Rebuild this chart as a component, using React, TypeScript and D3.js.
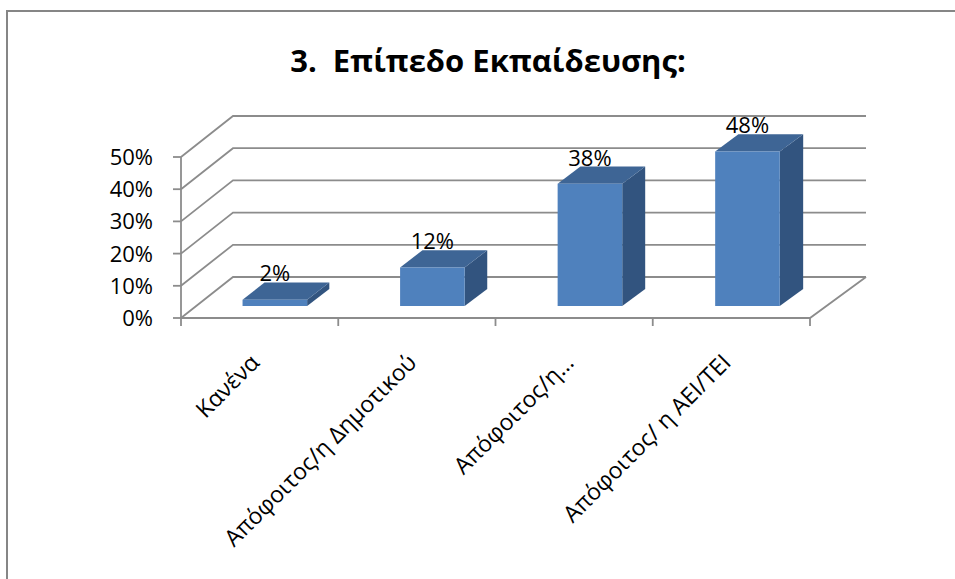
import React from "react";
import * as d3 from "d3";

const title = "3.\u00A0\u00A0Επίπεδο Εκπαίδευσης:";
const categories = ["Κανένα", "Απόφοιτος/η Δημοτικού", "Απόφοιτος/η…", "Απόφοιτος/ η ΑΕΙ/ΤΕΙ"];
const values = [2, 12, 38, 48];
const valueLabels = ["2%", "12%", "38%", "48%"];
const yTicks = [0, 10, 20, 30, 40, 50];
const yTickLabels = ["0%", "10%", "20%", "30%", "40%", "50%"];

const W = 955;
const H = 579;
const FONT = "'Open Sans', 'Noto Sans', sans-serif";

export default function App() {
  const xFront = d3.scaleLinear().domain([0, 1]).range([181, 810]);
  const depthDX = d3.scaleLinear().domain([0, 1]).range([52, 56]);
  const yScale = d3.scaleLinear().domain([0, 50]).range([318, 157]);
  const DY = 41;
  const proj = (u: number, v: number, z: number): [number, number] => [
    xFront(u) + z * depthDX(u),
    yScale(v) - z * DY,
  ];
  const band = d3.scaleBand<string>().domain(categories).range([0, 1]).paddingInner(0.59).paddingOuter(0.295);
  const z0 = 0.29;
  const z1 = 0.71;
  const line = d3.line();
  const poly = (pts: [number, number][]) => line(pts)! + "Z";

  const gridColor = "#8c8c8c";

  return (
    <svg width={W} height={H} style={{ position: "absolute", left: 0, top: 0, background: "#fff" }}>
      <rect x={0} y={0} width={W} height={H} fill="#fff" />
      <rect x={7} y={11} width={1200} height={1200} fill="none" stroke="#868686" strokeWidth={2} />
      <text
        x={488}
        y={72}
        textAnchor="middle"
        fontFamily={FONT}
        fontWeight="bold"
        fontSize={31}
        fill="#000"
        style={{ whiteSpace: "pre" }}
      >
        {title}
      </text>

      {/* gridlines: left wall + back wall */}
      {yTicks.map((t) => {
        const a = proj(0, t, 0);
        const b = proj(0, t, 1);
        const c = proj(1, t, 1);
        return <path key={"g" + t} d={line([a, b, c])!} fill="none" stroke={gridColor} strokeWidth={1.8} />;
      })}
      {/* floor front & right edges */}
      <path d={line([proj(0, 0, 0), proj(1, 0, 0), proj(1, 0, 1)])!} fill="none" stroke={gridColor} strokeWidth={1.8} />
      {/* y axis */}
      <path d={line([proj(0, 0, 0), proj(0, 50, 0)])!} fill="none" stroke={gridColor} strokeWidth={1.8} />
      {yTicks.map((t, i) => {
        const [x, y] = proj(0, t, 0);
        return (
          <g key={"yt" + t}>
            <line x1={x - 8} x2={x} y1={y} y2={y} stroke={gridColor} strokeWidth={1.8} />
            <text x={153} y={y + 8} textAnchor="end" fontFamily={FONT} fontSize={22} fill="#000">
              {yTickLabels[i]}
            </text>
          </g>
        );
      })}
      {/* x ticks */}
      {d3.range(categories.length + 1).map((i) => {
        const u = i / categories.length;
        const [x, y] = proj(u, 0, 0);
        return <line key={"xt" + i} x1={x} x2={x} y1={y} y2={y + 8} stroke={gridColor} strokeWidth={1.8} />;
      })}

      {/* bars */}
      {categories.map((c, i) => {
        const ua = band(c)!;
        const ub = ua + band.bandwidth();
        const v = values[i];
        const front = poly([proj(ua, 0, z0), proj(ub, 0, z0), proj(ub, v, z0), proj(ua, v, z0)]);
        const top = poly([proj(ua, v, z0), proj(ub, v, z0), proj(ub, v, z1), proj(ua, v, z1)]);
        const side = poly([proj(ub, 0, z0), proj(ub, 0, z1), proj(ub, v, z1), proj(ub, v, z0)]);
        const [lx] = proj((ua + ub) / 2, v, z0);
        const [, ly] = proj(ub, v, z1);
        return (
          <g key={"b" + i}>
            <path d={side} fill="#32547f" />
            <path d={top} fill="#3e6595" />
            <path d={front} fill="#4f81bd" />
            <text x={lx} y={ly - 1} textAnchor="middle" fontFamily={FONT} fontSize={22} fill="#000">
              {valueLabels[i]}
            </text>
          </g>
        );
      })}

      {/* category labels */}
      {categories.map((c, i) => {
        const u = band(c)! + band.bandwidth() / 2;
        const [x] = proj(u, 0, 0);
        const ax = x + 1;
        const ay = 364;
        return (
          <text
            key={"cl" + i}
            x={ax}
            y={ay}
            transform={`rotate(-45 ${ax} ${ay})`}
            textAnchor="end"
            fontFamily={FONT}
            fontSize={23}
            fill="#000"
          >
            {c}
          </text>
        );
      })}
    </svg>
  );
}
